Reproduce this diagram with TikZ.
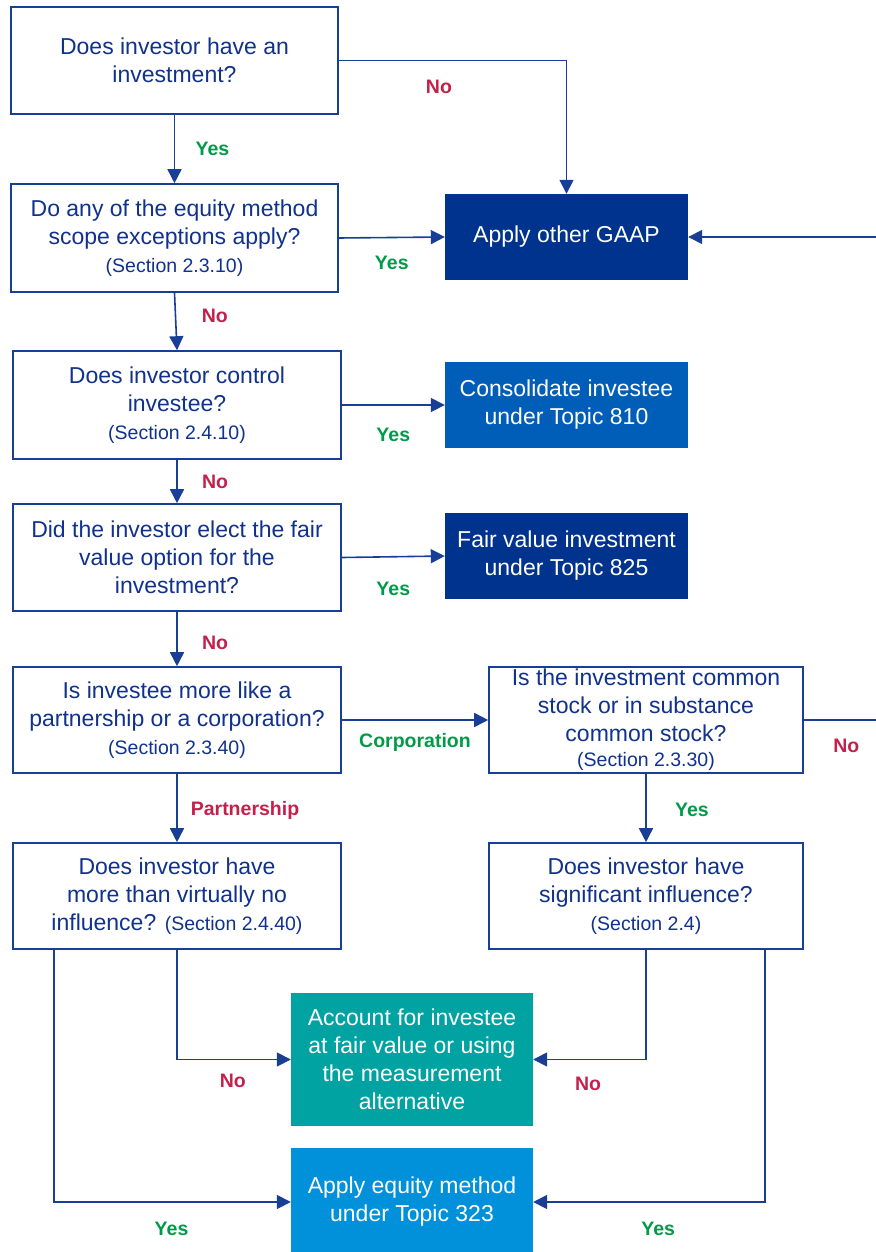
\documentclass[tikz,border=0pt]{standalone}
\usepackage{fontspec}
\setmainfont{Liberation Sans}
\usetikzlibrary{arrows.meta,positioning}
\definecolor{navytxt}{RGB}{16,50,140}
\definecolor{navyline}{RGB}{24,62,150}
\definecolor{nored}{RGB}{196,32,76}
\definecolor{yesgreen}{RGB}{0,155,72}
\definecolor{kdark}{RGB}{0,51,141}
\definecolor{kmid}{RGB}{0,94,184}
\definecolor{kteal}{RGB}{0,163,161}
\definecolor{klight}{RGB}{0,145,218}
\newcommand{\sect}[1]{{\fontsize{19.5pt}{23pt}\selectfont #1}}
\tikzset{font={\fontsize{23pt}{28pt}\selectfont}}

\begin{document}
\begin{tikzpicture}[x=1pt,y=-1pt,
qbox/.style={draw=navyline,line width=1.6pt,fill=white,text=navytxt,align=center,inner sep=0pt,minimum width=327pt,minimum height=107pt},
rbox/.style={fill=#1,text=white,align=center,inner sep=0pt,minimum width=243pt,minimum height=86pt},
arr/.style={draw=navyline,line width=1.6pt,-{Triangle[length=14pt,width=14pt]}},
yes/.style={text=yesgreen,font={\fontsize{19.5pt}{23pt}\selectfont\bfseries},inner sep=0pt},
no/.style={text=nored,font={\fontsize{19.5pt}{23pt}\selectfont\bfseries},inner sep=0pt}
]
\useasboundingbox (0,0) rectangle (875,1252);

% questions, left column
\node[qbox] (hasinv) at (174.5,60.5) {Does investor have an\\investment?};
\node[qbox,minimum height=108pt] (scope) at (174.5,238) {Do any of the equity method\\scope exceptions apply?\\\sect{(Section 2.3.10)}};
\node[qbox,minimum width=328pt,minimum height=108pt] (control) at (177,405) {Does investor control\\investee?\\\sect{(Section 2.4.10)}};
\node[qbox,minimum width=328pt] (fvo) at (177,557.5) {Did the investor elect the fair\\value option for the\\investment?};
\node[qbox,minimum width=328pt,minimum height=106pt] (pship) at (177,720) {Is investee more like a\\partnership or a corporation?\\\sect{(Section 2.3.40)}};
\node[qbox,minimum width=328pt,minimum height=106pt] (virt) at (177,896) {Does investor have\\more than virtually no\\influence? \sect{(Section 2.4.40)}};

% questions, right column
\node[qbox,minimum width=314pt,minimum height=106pt] (common) at (646,720) {Is the investment common\\stock or in substance\\common stock?\\[-3pt]\sect{(Section 2.3.30)}};
\node[qbox,minimum width=314pt,minimum height=106pt] (siginf) at (646,896) {Does investor have\\significant influence?\\\sect{(Section 2.4)}};

% outcomes
\node[rbox=kdark] (gaap) at (566.5,237) {Apply other GAAP};
\node[rbox=kmid] (consol) at (566.5,405) {Consolidate investee\\under Topic 810};
\node[rbox=kdark] (fvinv) at (566.5,556) {Fair value investment\\under Topic 825};
\node[rbox=kteal,minimum width=242pt,minimum height=133pt] (acct) at (412,1059.5) {Account for investee\\at fair value or using\\the measurement\\alternative};
\node[rbox=klight,minimum width=242pt,minimum height=108pt] (equity) at (412,1202) {Apply equity method\\under Topic 323};

\coordinate (offright) at (905,720);

% connectors
\draw[arr] (hasinv) -- node[yes,xshift=38pt]{Yes} (scope);
\draw[arr] (hasinv.east) -| node[no,pos=0.22,yshift=-26pt]{No} (gaap.north);
\draw[arr] (scope.east) -- node[yes,yshift=-25pt]{Yes} (gaap.west);
\draw[arr] (scope.south) -- node[no,xshift=39pt,yshift=6pt]{No} (control.north);
\draw[arr] (control.east) -- node[yes,yshift=-30pt]{Yes} (consol.west);
\draw[arr] (control.south) -- node[no,xshift=38pt]{No} (fvo.north);
\draw[arr] (fvo.east) -- node[yes,yshift=-32pt]{Yes} (fvinv.west);
\draw[arr] (fvo.south) -- node[no,xshift=38pt,yshift=-4pt]{No} (pship.north);
\draw[arr] (pship.east) -- node[yes,yshift=-22pt]{Corporation} (common.west);
\draw[arr] (pship.south) -- node[no,xshift=68pt,yshift=-2pt]{Partnership} (virt.north);
\draw[arr] (common.south) -- node[yes,xshift=46pt,yshift=-2pt]{Yes} (siginf.north);
\draw[arr] (common.east) -- node[no,pos=0.42,yshift=-26pt]{No} (offright) |- (gaap.east);
\draw[arr] (virt.south) |- node[no,pos=0.745,yshift=-21pt]{No} (acct.west);
\draw[arr] ([xshift=42pt]virt.south west) |- node[yes,pos=0.748,yshift=-27pt]{Yes} (equity.west);
\draw[arr] (siginf.south) |- node[no,pos=0.757,yshift=-24pt]{No} (acct.east);
\draw[arr] ([xshift=-39pt]siginf.south east) |- node[yes,pos=0.73,yshift=-27pt]{Yes} (equity.east);
\end{tikzpicture}
\end{document}
